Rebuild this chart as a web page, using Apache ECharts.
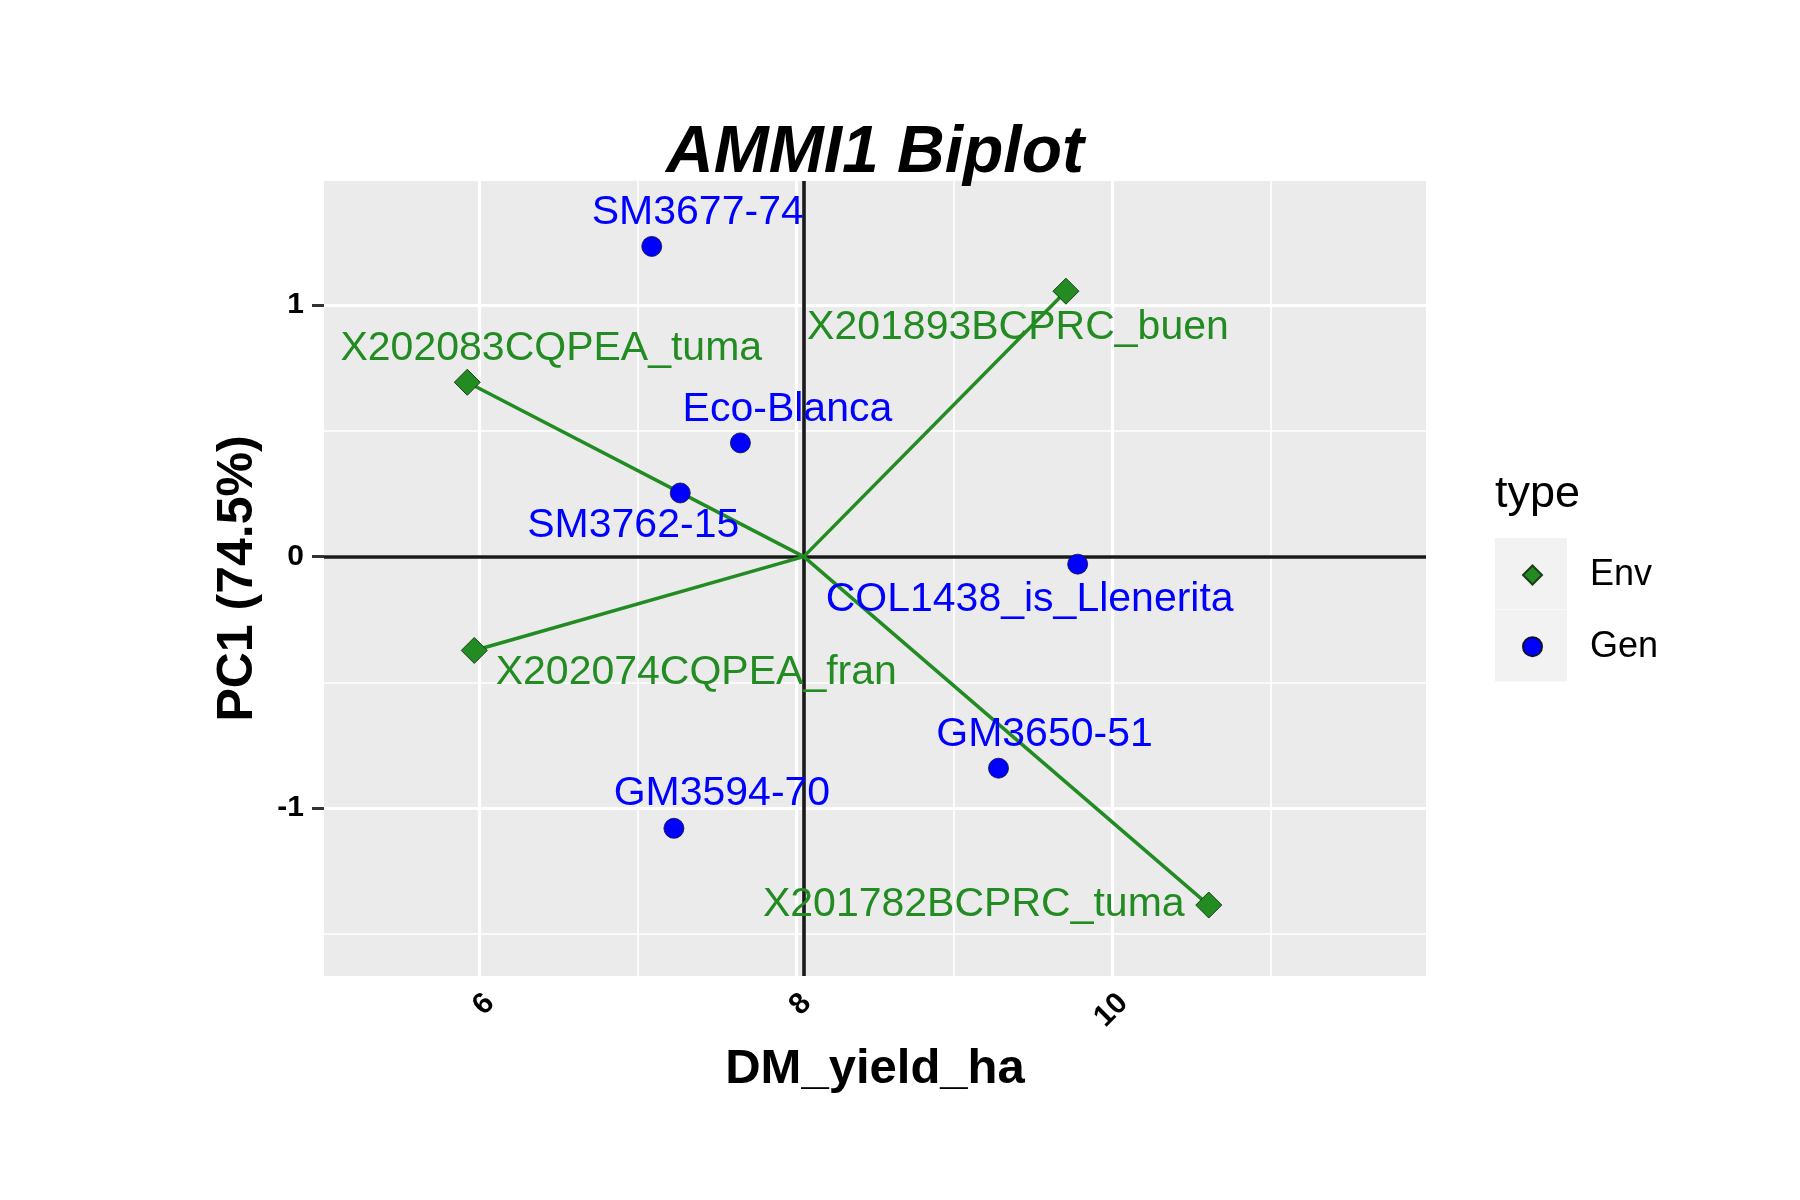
<!DOCTYPE html>
<html>
<head>
<meta charset="utf-8">
<script src="https://cdn.jsdelivr.net/npm/echarts@6/dist/echarts.min.js"></script>
<style>html,body{margin:0;padding:0;background:#ffffff}#chart{width:1800px;height:1200px}</style>
</head>
<body>
<div id="chart"></div>
<script>
// ---------------- data ----------------
const genNames = ['SM3677-74', 'Eco-Blanca', 'SM3762-15', 'COL1438_is_Llenerita', 'GM3594-70', 'GM3650-51'];
const genYield = [7.09, 7.65, 7.27, 9.78, 7.23, 9.28];
const genPC1 = [1.233, 0.452, 0.253, -0.030, -1.080, -0.841];

const envNames = ['X202083CQPEA_tuma', 'X201893BCPRC_buen', 'X202074CQPEA_fran', 'X201782BCPRC_tuma'];
const envYield = [5.925, 9.706, 5.969, 10.608];
const envPC1 = [0.693, 1.055, -0.373, -1.385];

const meanYield = 8.05;

const xTicks = [6, 8, 10];
const xMinorTicks = [7, 9, 11];
const yTicks = [-1, 0, 1];
const yMinorTicks = [-1.5, -0.5, 0.5];
const xLimits = [5.02, 11.98];
const yLimits = [-1.667, 1.493];

// ---------------- label placement (pixel nudges, styling only) ----------------
const genLabelNudge = [[46, -34], [47, -33], [-47, 33], [-48, 36], [48, -35], [46, -34]];
const envLabelNudge = [[84, -34], [-48, 36], [222, 22], [-235, 0]];

const FONT = '"Liberation Sans", Arial, Helvetica, sans-serif';
const ENV_COLOR = '#228B22';
const GEN_COLOR = '#0000FF';

const chart = echarts.init(document.getElementById('chart'), null, {renderer: 'canvas', width: 1800, height: 1200});

const gridLineData = []
  .concat(xTicks.map(v => ({xAxis: v, lineStyle: {color: '#ffffff', width: 3.2, type: 'solid'}})))
  .concat(xMinorTicks.map(v => ({xAxis: v, lineStyle: {color: '#ffffff', width: 1.7, type: 'solid'}})))
  .concat(yTicks.map(v => ({yAxis: v, lineStyle: {color: '#ffffff', width: 3.2, type: 'solid'}})))
  .concat(yMinorTicks.map(v => ({yAxis: v, lineStyle: {color: '#ffffff', width: 1.7, type: 'solid'}})));

const pointLabel = (color) => ({
  show: true, position: 'inside', align: 'center', verticalAlign: 'middle',
  fontFamily: FONT, fontSize: 41, color: color,
  textBorderWidth: 0, textBorderColor: 'transparent', textShadowBlur: 0,
  formatter: p => p.name
});

const option = {
  animation: false,
  backgroundColor: '#ffffff',
  title: [
    {
      text: 'AMMI1 Biplot', left: 875, top: 121, textAlign: 'center', padding: 0,
      textStyle: {fontFamily: FONT, fontSize: 66, fontWeight: 'bold', fontStyle: 'italic', color: '#000000'}
    },
    {
      text: 'type', left: 1495, top: 472, padding: 0,
      textStyle: {fontFamily: FONT, fontSize: 45, fontWeight: 'normal', color: '#000000'}
    }
  ],
  graphic: [
    {type: 'rect', z: 0, shape: {x: 1495, y: 538, width: 72, height: 71.5}, style: {fill: '#F2F2F2'}},
    {type: 'rect', z: 0, shape: {x: 1495, y: 610, width: 72, height: 71.5}, style: {fill: '#F2F2F2'}}
  ],
  legend: {
    orient: 'vertical', left: 1522, top: 557, padding: 0,
    itemWidth: 19, itemHeight: 19, itemGap: 35.7,
    data: [{name: 'Env', icon: 'diamond'}, {name: 'Gen', icon: 'circle'}],
    textStyle: {fontFamily: FONT, fontSize: 36, color: '#000000', padding: [0, 0, 0, 43]}
  },
  grid: {
    left: 324, right: 374, top: 181, bottom: 224,
    containLabel: false, outerBoundsMode: 'none',
    show: true, backgroundColor: '#EBEBEB', borderWidth: 0
  },
  xAxis: {
    type: 'value', min: xLimits[0], max: xLimits[1],
    axisLine: {show: false},
    splitLine: {show: false},
    axisTick: {show: true, length: 12, customValues: xTicks, lineStyle: {color: '#333333', width: 3}},
    axisLabel: {
      customValues: xTicks, rotate: 45, align: 'right', verticalAlign: 'top', margin: 12,
      fontFamily: FONT, fontSize: 30, fontWeight: 'bold', color: '#000000',
      formatter: v => (xTicks.indexOf(v) >= 0 ? String(v) : '')
    },
    name: 'DM_yield_ha', nameLocation: 'middle', nameGap: 69,
    nameTextStyle: {fontFamily: FONT, fontSize: 49, fontWeight: 'bold', color: '#000000'}
  },
  yAxis: {
    type: 'value', min: yLimits[0], max: yLimits[1],
    axisLine: {show: false},
    splitLine: {show: false},
    axisTick: {show: true, length: 12, customValues: yTicks, lineStyle: {color: '#333333', width: 3}},
    axisLabel: {
      customValues: yTicks, margin: 20,
      fontFamily: FONT, fontSize: 30, fontWeight: 'bold', color: '#000000',
      formatter: v => (yTicks.indexOf(v) >= 0 ? String(v) : '')
    },
    name: 'PC1 (74.5%)', nameLocation: 'middle', nameGap: 61, nameRotate: 90,
    nameTextStyle: {fontFamily: FONT, fontSize: 50, fontWeight: 'bold', color: '#000000'}
  },
  series: [
    {
      name: 'gridlines', type: 'scatter', data: [], z: 1, silent: true,
      markLine: {z: 1, silent: true, symbol: ['none', 'none'], animation: false, label: {show: false}, data: gridLineData}
    },
    {
      name: 'reference', type: 'scatter', data: [], z: 2, silent: true,
      markLine: {
        z: 2, silent: true, symbol: ['none', 'none'], animation: false, label: {show: false},
        lineStyle: {color: '#1a1a1a', width: 3.6, type: 'solid'},
        data: [{xAxis: meanYield}, {yAxis: 0}]
      }
    },
    {
      name: 'envVectors', type: 'lines', coordinateSystem: 'cartesian2d', z: 3, silent: true,
      lineStyle: {color: ENV_COLOR, width: 3.5, opacity: 1},
      data: envYield.map((x, i) => ({coords: [[meanYield, 0], [x, envPC1[i]]]}))
    },
    {
      name: 'Env', type: 'scatter', z: 5, symbol: 'diamond', symbolSize: 26,
      itemStyle: {color: ENV_COLOR, borderColor: '#1b3d1b', borderWidth: 1, opacity: 1},
      label: pointLabel(ENV_COLOR),
      data: envYield.map((x, i) => ({name: envNames[i], value: [x, envPC1[i]], label: {offset: envLabelNudge[i]}}))
    },
    {
      name: 'Gen', type: 'scatter', z: 5, symbol: 'circle', symbolSize: 20,
      itemStyle: {color: GEN_COLOR, borderColor: '#111133', borderWidth: 0.8, opacity: 1},
      label: pointLabel(GEN_COLOR),
      data: genYield.map((x, i) => ({name: genNames[i], value: [x, genPC1[i]], label: {offset: genLabelNudge[i]}}))
    }
  ]
};

chart.setOption(option);
</script>
</body>
</html>
